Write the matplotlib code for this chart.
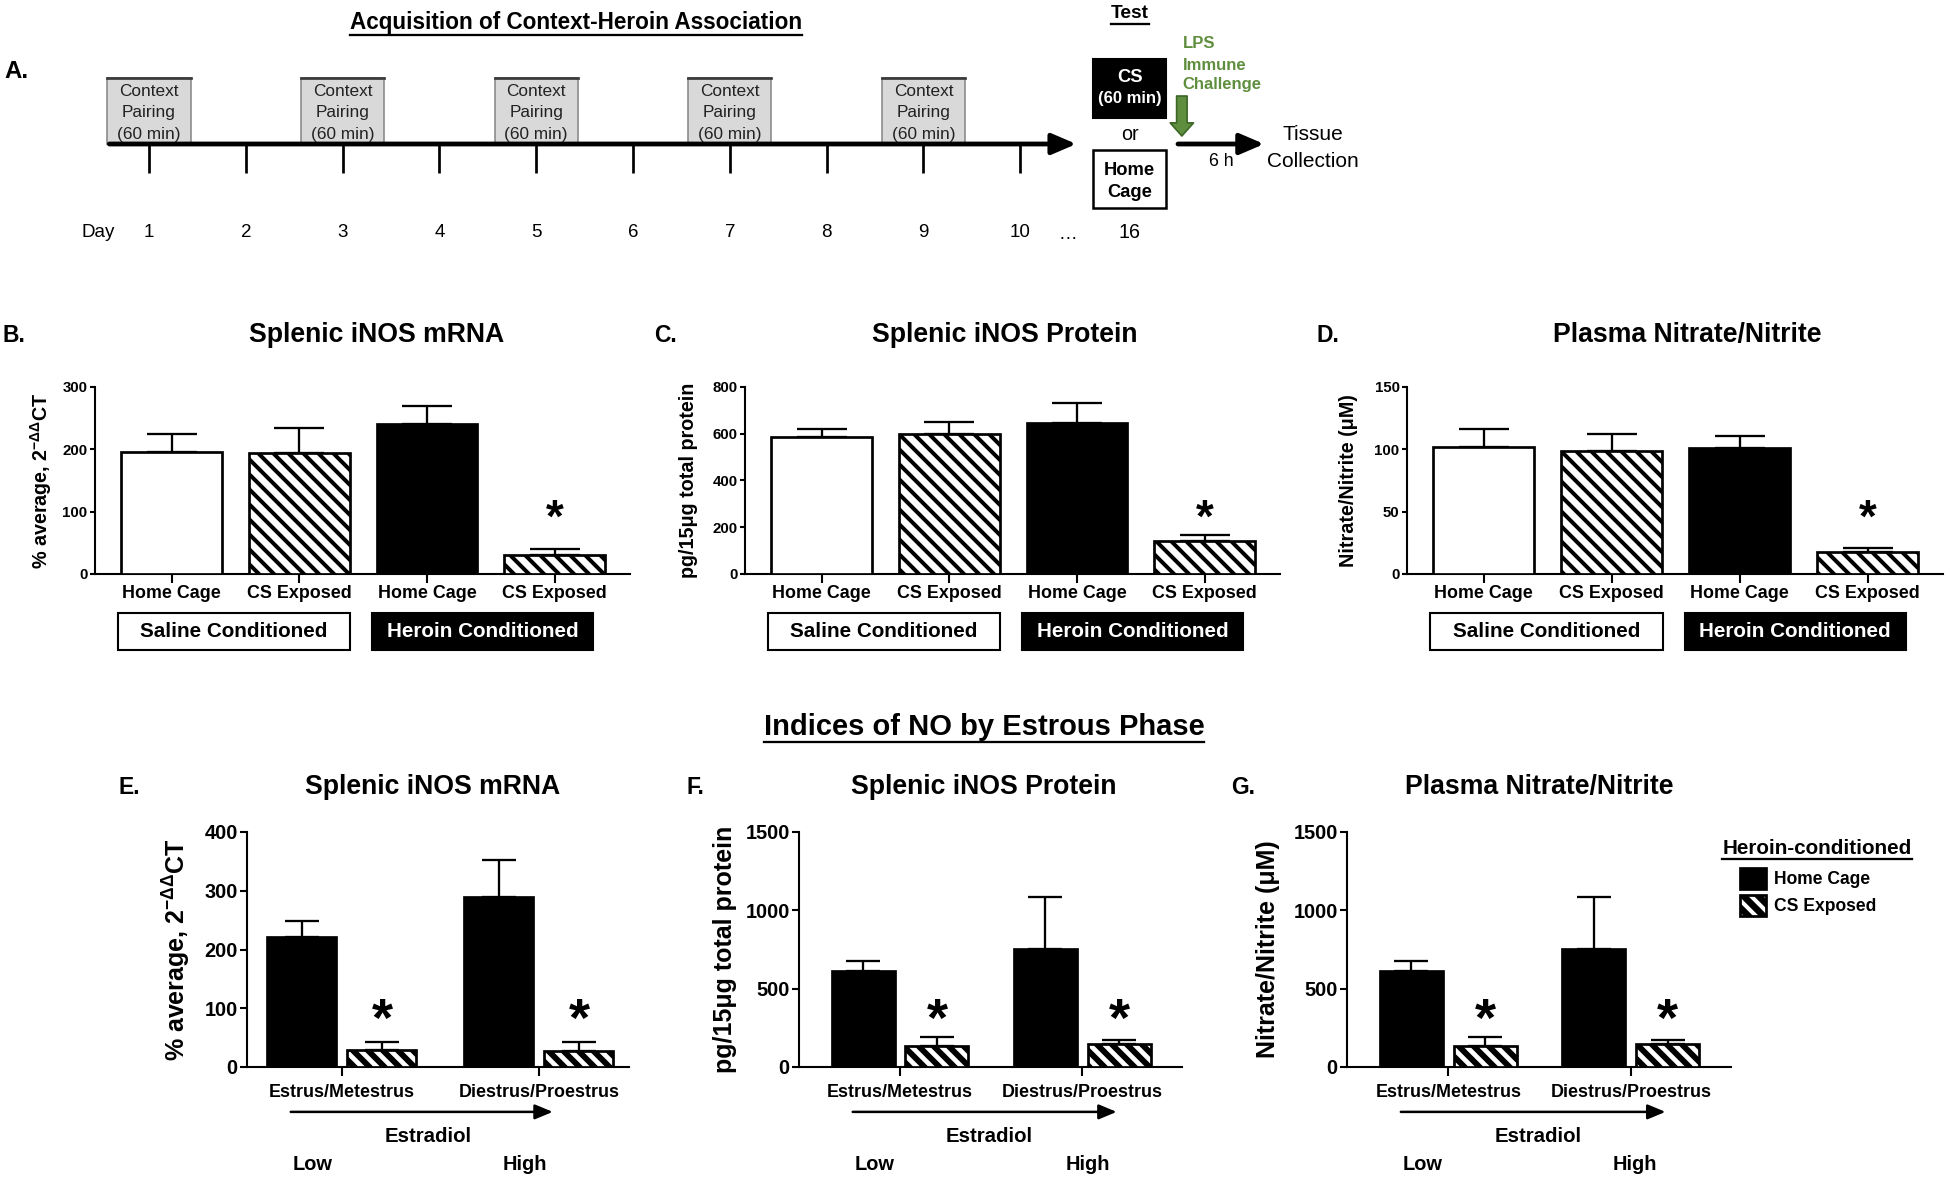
import numpy as np
import matplotlib
matplotlib.use("Agg")
import matplotlib.pyplot as plt
import matplotlib.transforms as mtransforms
from matplotlib.patches import Rectangle
from matplotlib.lines import Line2D

# ---------------- data ----------------
days = np.arange(1, 11)
pairing_days = [1, 3, 5, 7, 9]
test_day = 16

bar_groups = ["Home Cage", "CS Exposed", "Home Cage", "CS Exposed"]
conditions = ["Saline Conditioned", "Heroin Conditioned"]
top_sig = [False, False, False, True]

mrna_mean = [195, 194, 241, 30]
mrna_sem = [29, 41, 28, 10]
protein_mean = [584, 598, 648, 143]
protein_sem = [38, 54, 85, 25]
nox_mean = [102, 98.6, 101, 17.9]
nox_sem = [14, 13.7, 9.6, 2.9]

phases = ["Estrus/Metestrus", "Diestrus/Proestrus"]
series = ["Home Cage", "CS Exposed"]
ph_mrna_hc = [221, 290]
ph_mrna_hc_sem = [28, 62]
ph_mrna_cs = [29, 28]
ph_mrna_cs_sem = [14, 14]
ph_prot_hc = [613, 753]
ph_prot_hc_sem = [64, 331]
ph_prot_cs = [136, 146]
ph_prot_cs_sem = [55, 28]
ph_nox_hc = [613, 753]
ph_nox_hc_sem = [64, 331]
ph_nox_cs = [136, 146]
ph_nox_cs_sem = [55, 28]

# ---------------- style ----------------
# dpi 180 -> hatch tile is 180 px, 4 backslashes give stripes ~15 px apart
W, H, DPI = 1950, 1182, 180
K = 150 / DPI   # sizes below were worked out for 150 dpi
STRIPES = "\\" * 4


def P(v):
    return v * K


plt.rcParams["font.family"] = ["Liberation Sans", "DejaVu Sans"]
plt.rcParams["font.weight"] = "bold"
plt.rcParams["mathtext.fontset"] = "custom"
plt.rcParams["mathtext.rm"] = "Liberation Sans:bold"
plt.rcParams["mathtext.bf"] = "Liberation Sans:bold"
plt.rcParams["mathtext.it"] = "Liberation Sans:bold"
plt.rcParams["hatch.linewidth"] = 1.6
plt.rcParams["axes.linewidth"] = P(1.0)

fig = plt.figure(figsize=(W / DPI, H / DPI), dpi=DPI)
underlined = []


def add_ax(l, t, r, b):
    return fig.add_axes([l / W, 1 - b / H, (r - l) / W, (b - t) / H])


def ftext(x, y, s, **kw):
    kw.setdefault("ha", "center")
    kw.setdefault("va", "center")
    kw["fontsize"] = P(kw.get("fontsize", 10))
    return fig.text(x / W, 1 - y / H, s, **kw)


def base_axes(ax, ymax, ystep, ytick_fs, ytick_len, xtick_pad, xtick_fs):
    for s in ("top", "right"):
        ax.spines[s].set_visible(False)
    ax.spines["left"].set_bounds(0, ymax)
    ax.set_ylim(0, ymax)
    ax.set_yticks(np.arange(0, ymax + 1, ystep))
    ax.tick_params(axis="y", length=P(ytick_len), width=P(1.0), pad=P(1),
                   labelsize=P(ytick_fs))
    ax.tick_params(axis="x", length=P(4.3), width=P(1.0), pad=P(xtick_pad),
                   labelsize=P(xtick_fs))


def hatch_lw(bars, lw):
    for bar in bars:
        if hasattr(bar, "set_hatch_linewidth"):
            bar.set_hatch_linewidth(lw)


# ---------------- panel A: timeline ----------------
px_per_day = 96.8
ax_a = fig.add_axes([0, 1 - 260 / H, 1, 260 / H])
ax_a.set_xlim(1 - 149 / px_per_day, 1 + (W - 149) / px_per_day)
ax_a.set_ylim(260, 0)
ax_a.axis("off")
test_x = 11.13


def atext(x, y, s, fs, **kw):
    kw.setdefault("ha", "center")
    kw.setdefault("va", "center")
    return ax_a.text(x, y, s, fontsize=P(fs), **kw)


for d in pairing_days:
    ax_a.add_patch(Rectangle((d - 0.43, 78), 0.86, 66, fc="#d9d9d9", ec="#8c8c8c", lw=P(0.8)))
    ax_a.plot([d - 0.43, d + 0.43], [78, 78], color="#3a3a3a", lw=P(1.3))
    for txt, yy in zip(["Context", "Pairing", "(60 min)"], [92, 113, 134]):
        atext(d, yy, txt, 8.3, fontweight="normal", color="#222222")

arrow_style = dict(arrowstyle="-|>,head_length=0.7,head_width=0.3", lw=P(2.3), color="black",
                   mutation_scale=P(14), shrinkA=0, shrinkB=0)
ax_a.annotate("", xy=(10.58, 144), xytext=(0.59, 144), arrowprops=arrow_style)
ax_a.vlines(days, 144, 173, color="black", lw=P(1.3))
for d in days:
    atext(d, 232, str(d), 9, fontweight="normal")
atext(0.47, 232, "Day", 9, fontweight="normal")
atext(10.49, 234, "\u2026", 9, fontweight="normal")
atext(test_x, 232, str(test_day), 9.5, fontweight="normal")

# test boxes
ax_a.add_patch(Rectangle((test_x - 0.38, 59), 0.76, 59, fc="black", ec="black", lw=P(1)))
atext(test_x, 77, "CS", 8.8, color="white")
atext(test_x, 99, "(60 min)", 8, color="white")
atext(test_x, 135, "or", 9.5, fontweight="normal")
ax_a.add_patch(Rectangle((test_x - 0.38, 150), 0.76, 58, fc="white", ec="black", lw=P(1.2)))
atext(test_x, 170, "Home", 8.8)
atext(test_x, 192, "Cage", 8.8)
underlined.append(atext(test_x, 14, "Test", 9.2))

green = "#5f8f3e"
for txt, yy in zip(["LPS", "Immune", "Challenge"], [43, 65, 85]):
    atext(11.68, yy, txt, 8, ha="left", color=green)
ax_a.annotate("", xy=(11.67, 136), xytext=(11.67, 96),
              arrowprops=dict(arrowstyle="simple,head_length=0.45,head_width=0.8,tail_width=0.36",
                              fc=green, ec="#3e6627", lw=P(0.8), mutation_scale=P(14),
                              shrinkA=0, shrinkB=0))
ax_a.annotate("", xy=(12.52, 144), xytext=(11.63, 144), arrowprops=arrow_style)
atext(12.08, 161, "6 h", 8.5, fontweight="normal")
atext(13.02, 135, "Tissue", 10, fontweight="normal")
atext(13.02, 161, "Collection", 10, fontweight="normal")

underlined.append(ftext(576, 22, "Acquisition of Context-Heroin Association", fontsize=10.8))
ftext(4, 72, "A.", ha="left", fontsize=11.5)

# ---------------- panels B-D ----------------
top_panels = [
    dict(box=(95, 387, 630, 574), mean=mrna_mean, sem=mrna_sem, ymax=300, ystep=100,
         ylabel=r"% average, 2$^{-\Delta\Delta}$CT", ylab_x=41, title="Splenic iNOS mRNA",
         title_x=377, letter="B.", letter_x=2),
    dict(box=(745, 387, 1280, 574), mean=protein_mean, sem=protein_sem, ymax=800, ystep=200,
         ylabel="pg/15\u03bcg total protein", ylab_x=689, title="Splenic iNOS Protein",
         title_x=1005, letter="C.", letter_x=654),
    dict(box=(1407, 387, 1943, 574), mean=nox_mean, sem=nox_sem, ymax=150, ystep=50,
         ylabel="Nitrate/Nitrite (\u03bcM)", ylab_x=1348, title="Plasma Nitrate/Nitrite",
         title_x=1687, letter="D.", letter_x=1317),
]
fills = ["white", "white", "black", "white"]
hatches = ["", STRIPES, "", STRIPES]
cond_spans = [(-0.42, 1.40), (1.57, 3.30)]
cond_colors = [("white", "black"), ("black", "white")]

for p in top_panels:
    l, t, r, b = p["box"]
    ax = add_ax(l, t, r, b)
    x = np.arange(len(p["mean"]))
    bars = ax.bar(x, p["mean"], width=0.79, color=fills, edgecolor="black",
                  linewidth=P(1.3), zorder=3)
    for bar, h in zip(bars, hatches):
        bar.set_hatch(h)
    hatch_lw(bars, 1.6)
    ax.errorbar(x, p["mean"], yerr=[np.zeros(len(x)), p["sem"]], fmt="none", ecolor="black",
                elinewidth=P(1.1), capsize=P(12), capthick=P(1.1), zorder=2, clip_on=False)
    ax.set_xlim(-0.6, 3.59)
    ax.set_xticks(x)
    ax.set_xticklabels(bar_groups)
    base_axes(ax, p["ymax"], p["ystep"], 7.2, 2.6, 1.2, 8.6)
    trans = mtransforms.blended_transform_factory(ax.transData, ax.transAxes)
    for xi, sig in zip(x, top_sig):
        if sig:
            ax.text(xi, 0.29, "*", transform=trans, ha="center", va="center",
                    fontsize=P(22))
    for (x0, x1), (fc, tc), name in zip(cond_spans, cond_colors, conditions):
        ax.add_patch(Rectangle((x0, -0.406), x1 - x0, 0.197, transform=trans, fc=fc,
                               ec="black", lw=P(1.0), clip_on=False))
        ax.text((x0 + x1) / 2, -0.307, name, transform=trans, ha="center", va="center",
                color=tc, fontsize=P(9.9))
    ax.text((p["ylab_x"] - l) / (r - l), 0.5, p["ylabel"], transform=ax.transAxes,
            rotation=90, ha="center", va="center", fontsize=P(9.5))
    ftext(p["title_x"], 335, p["title"], fontsize=12.8)
    ftext(p["letter_x"], 335, p["letter"], ha="left", fontsize=11)

# ---------------- panels E-G ----------------
underlined.append(ftext(984, 727, "Indices of NO by Estrous Phase", fontsize=14))

bottom_panels = [
    dict(box=(247, 832, 629, 1067), hc=ph_mrna_hc, hc_sem=ph_mrna_hc_sem, cs=ph_mrna_cs,
         cs_sem=ph_mrna_cs_sem, ymax=400, ystep=100, xlim=(-0.482, 1.457), width=0.35,
         arrow=(-0.26, 1.07), est_x=0.44, low_x=-0.15, high_x=0.93,
         ylabel=r"% average, 2$^{-\Delta\Delta}$CT", ylab_x=177,
         title="Splenic iNOS mRNA", title_x=433, letter="E.", letter_x=118),
    dict(box=(799, 832, 1182, 1067), hc=ph_prot_hc, hc_sem=ph_prot_hc_sem, cs=ph_prot_cs,
         cs_sem=ph_prot_cs_sem, ymax=1500, ystep=500, xlim=(-0.555, 1.549), width=0.346,
         arrow=(-0.26, 1.19), est_x=0.49, low_x=-0.14, high_x=1.03,
         ylabel="pg/15\u03bcg total protein", ylab_x=725,
         title="Splenic iNOS Protein", title_x=984, letter="F.", letter_x=686),
    dict(box=(1347, 832, 1731, 1067), hc=ph_nox_hc, hc_sem=ph_nox_hc_sem, cs=ph_nox_cs,
         cs_sem=ph_nox_cs_sem, ymax=1500, ystep=500, xlim=(-0.555, 1.549), width=0.346,
         arrow=(-0.26, 1.19), est_x=0.49, low_x=-0.14, high_x=1.02,
         ylabel="Nitrate/Nitrite (\u03bcM)", ylab_x=1268,
         title="Plasma Nitrate/Nitrite", title_x=1539, letter="G.", letter_x=1231),
]

legend_handles = None
for p in bottom_panels:
    l, t, r, b = p["box"]
    ax = add_ax(l, t, r, b)
    x = np.arange(len(phases))
    off = 0.203
    b_hc = ax.bar(x - off, p["hc"], width=p["width"], color="black", edgecolor="black",
                  linewidth=P(1.3), zorder=3)
    # CS bars: white stripes on black, then a black outline on top
    b_cs = ax.bar(x + off, p["cs"], width=p["width"], color="black", edgecolor="white",
                  linewidth=0, hatch=STRIPES, zorder=3)
    hatch_lw(b_cs, 1.9)
    b_cs_edge = ax.bar(x + off, p["cs"], width=p["width"], color="none", edgecolor="black",
                       linewidth=P(1.3), zorder=4)
    for xs, m, s in [(x - off, p["hc"], p["hc_sem"]), (x + off, p["cs"], p["cs_sem"])]:
        ax.errorbar(xs, m, yerr=[np.zeros(len(xs)), s], fmt="none", ecolor="black",
                    elinewidth=P(1.1), capsize=P(8), capthick=P(1.1), zorder=2,
                    clip_on=False)
    ax.set_xlim(*p["xlim"])
    ax.set_xticks(x)
    ax.set_xticklabels(phases)
    base_axes(ax, p["ymax"], p["ystep"], 9.6, 3.4, 3.8, 8.6)
    trans = mtransforms.blended_transform_factory(ax.transData, ax.transAxes)
    for xi in x + off:
        ax.text(xi, 0.19, "*", transform=trans, ha="center", va="center", fontsize=P(26))
    ax.annotate("", xy=(p["arrow"][1], -0.191), xytext=(p["arrow"][0], -0.191),
                xycoords=trans, textcoords=trans, annotation_clip=False,
                arrowprops=dict(arrowstyle="-|>,head_length=0.6,head_width=0.25",
                                lw=P(1.2), color="black", mutation_scale=P(12),
                                shrinkA=0, shrinkB=0))
    ax.text(p["est_x"], -0.294, "Estradiol", transform=trans, ha="center", va="center",
            fontsize=P(9.8))
    ax.text(p["low_x"], -0.413, "Low", transform=trans, ha="center", va="center",
            fontsize=P(9.6))
    ax.text(p["high_x"], -0.413, "High", transform=trans, ha="center", va="center",
            fontsize=P(9.6))
    ax.text((p["ylab_x"] - l) / (r - l), 0.5, p["ylabel"], transform=ax.transAxes,
            rotation=90, ha="center", va="center", fontsize=P(12))
    ftext(p["title_x"], 787, p["title"], fontsize=12.8)
    ftext(p["letter_x"], 787, p["letter"], ha="left", fontsize=11)
    legend_handles = [b_hc, (b_cs, b_cs_edge)]

fig.legend(legend_handles, series, loc="upper left",
           bbox_to_anchor=(1740 / W, 1 - 868 / H), frameon=False,
           prop=dict(size=P(8.4), weight="bold"), handlelength=1.5, handleheight=1.5,
           handletextpad=0.45, labelspacing=0.3, borderaxespad=0, borderpad=0)
underlined.append(ftext(1817, 848, "Heroin-conditioned", fontsize=9.9))

# underline titles
fig.canvas.draw()
renderer = fig.canvas.get_renderer()
for txt in underlined:
    bb = txt.get_window_extent(renderer)
    fig.add_artist(Line2D([bb.x0 / W, bb.x1 / W], [(bb.y0 - 1) / H] * 2,
                          transform=fig.transFigure, color="black", lw=P(1.1)))

fig.savefig("out.png", dpi=DPI, facecolor="white")
